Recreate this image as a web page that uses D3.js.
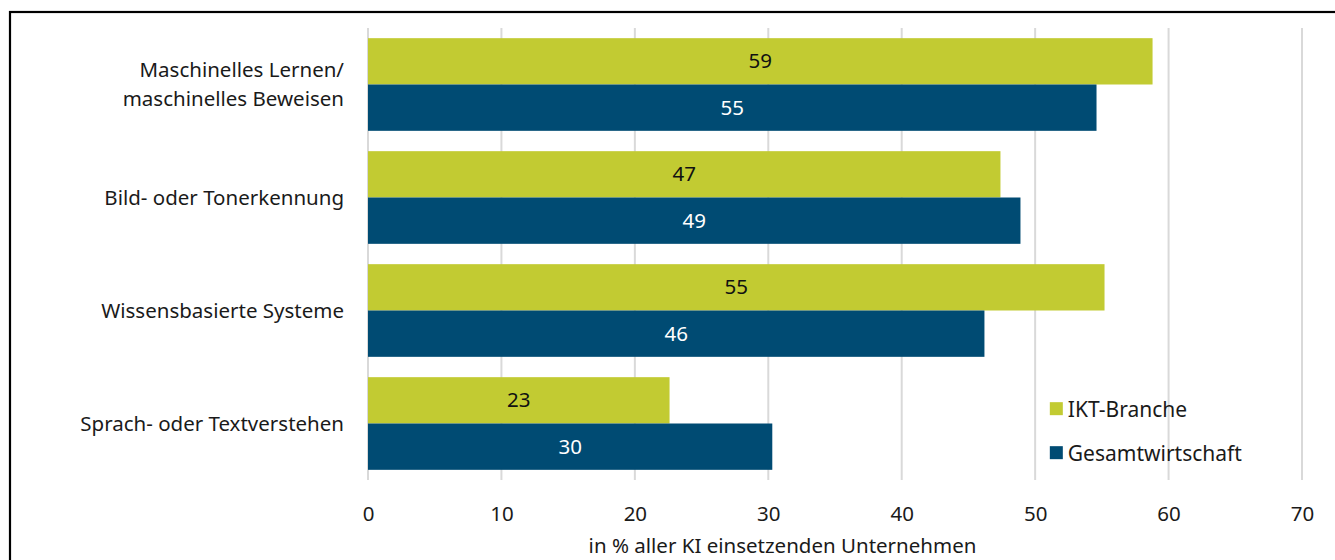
<!DOCTYPE html>
<html>
<head>
<meta charset="utf-8">
<script src="https://cdn.jsdelivr.net/npm/d3@7"></script>
<style>
  body { margin: 0; background: #fff; }
  svg { display: block; }
  svg text { font-family: "Noto Sans", sans-serif; }
  .c-axis text { font-size: 20.5px; fill: #1a1a1a; }
</style>
</head>
<body>
<svg class="js-render-chart" width="1335" height="560"></svg>
<script>
"use strict";

//data

const categories = [
  ["Maschinelles Lernen/", "maschinelles Beweisen"],
  ["Bild- oder Tonerkennung"],
  ["Wissensbasierte Systeme"],
  ["Sprach- oder Textverstehen"]
];
const seriesNames = ["IKT-Branche", "Gesamtwirtschaft"];
const ikt = [58.8, 47.4, 55.2, 22.6];
const gesamt = [54.6, 48.9, 46.2, 30.3];
const xTicks = [0, 10, 20, 30, 40, 50, 60, 70];
const colors = ["#c2cb32", "#004b73"];
const labelColors = ["#111", "#fff"];

//svg params

const w = 1335;
const h = 560;
const m = { t: 28, r: 33, b: 80, l: 368 };
const iw = w - m.l - m.r;
const ih = h - m.t - m.b;
const fs = 20.5;

const svg = d3.select(".js-render-chart");

//frame

svg.append("rect")
  .attr("x", 10)
  .attr("y", 12)
  .attr("width", w + 20)
  .attr("height", h + 20)
  .attr("fill", "none")
  .attr("stroke", "#000")
  .attr("stroke-width", 2.2);

const chart = svg.append("g")
  .attr("transform", `translate(${m.l}, ${m.t})`);

//scales

const x = d3.scaleLinear().domain([0, 70]).range([0, iw]);
const y = d3.scaleBand().domain(d3.range(categories.length)).range([0, ih]).paddingInner(0.18).paddingOuter(0.09);
const ySub = d3.scaleBand().domain([0, 1]).range([0, y.bandwidth()]);

//grid

chart.append("g")
  .selectAll("line")
  .data(xTicks)
  .join("line")
  .attr("x1", d => x(d))
  .attr("x2", d => x(d))
  .attr("y1", 0)
  .attr("y2", ih)
  .attr("stroke", "#d9d9d9")
  .attr("stroke-width", 2);

//bars

const rows = categories.map((c, i) => ({ i, vals: [ikt[i], gesamt[i]] }));

const groups = chart.append("g")
  .selectAll("g")
  .data(rows)
  .join("g")
  .attr("transform", d => `translate(0, ${y(d.i)})`);

groups.selectAll("rect")
  .data(d => d.vals)
  .join("rect")
  .attr("x", x(0))
  .attr("y", (d, j) => ySub(j))
  .attr("width", d => x(d) - x(0))
  .attr("height", ySub.bandwidth())
  .attr("fill", (d, j) => colors[j]);

groups.selectAll("text")
  .data(d => d.vals)
  .join("text")
  .attr("x", d => (x(d) + x(0)) / 2)
  .attr("y", (d, j) => ySub(j) + ySub.bandwidth() / 2)
  .attr("dy", "0.35em")
  .attr("text-anchor", "middle")
  .attr("font-size", fs)
  .attr("fill", (d, j) => labelColors[j])
  .text(d => d3.format(".0f")(d));

//axes

const xa = d3.axisBottom(x).tickValues(xTicks).tickSize(0).tickPadding(16);

chart.append("g")
  .attr("class", "c-axis")
  .attr("transform", `translate(0, ${ih + 10})`)
  .call(xa)
  .call(g => g.select(".domain").remove())
  .append("text")
  .attr("x", (w / 2 + 115) - m.l)
  .attr("y", 63)
  .attr("text-anchor", "middle")
  .text("in % aller KI einsetzenden Unternehmen");

const ya = chart.append("g").attr("class", "c-axis");

ya.selectAll("text")
  .data(categories)
  .join("text")
  .attr("x", -24)
  .attr("y", (d, i) => y(i) + y.bandwidth() / 2)
  .attr("text-anchor", "end")
  .selectAll("tspan")
  .data(d => d.map((t, k) => ({ t, k, n: d.length })))
  .join("tspan")
  .attr("x", -24)
  .attr("dy", d => d.k === 0 ? `${0.35 - (d.n - 1) * 0.72}em` : "1.44em")
  .text(d => d.t);

//legend

const legend = chart.append("g")
  .attr("transform", `translate(${x(51.1)}, ${y(3) + 25})`)
  .selectAll("g")
  .data(seriesNames)
  .join("g")
  .attr("transform", (d, i) => `translate(0, ${i * 44})`);

legend.append("rect")
  .attr("width", 13)
  .attr("height", 13)
  .attr("fill", (d, i) => colors[i]);

legend.append("text")
  .attr("x", 18)
  .attr("y", 7)
  .attr("dy", "0.35em")
  .attr("font-size", 21)
  .attr("fill", "#1a1a1a")
  .text(d => d);
</script>
</body>
</html>
